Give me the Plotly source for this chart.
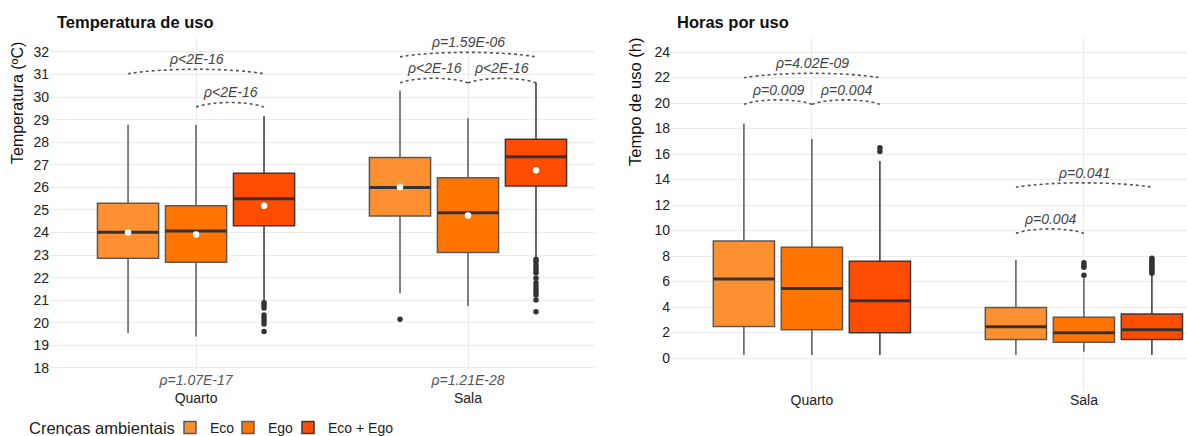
import plotly.graph_objects as go

# ---------------- data ----------------
categories = ["Quarto", "Sala"]
groups = ["Eco", "Ego", "Eco + Ego"]
colors = ["#FD9030", "#FF7500", "#FF4D00"]
line_colors = ["#5a5a5a", "#5a5a5a", "#383838"]

# Temperatura de uso (ºC) -- one row per group, values for [Quarto, Sala]
temp_lowerfence = [[19.55, 21.31], [19.39, 20.75], [20.95, 22.88]]
temp_q1 = [[22.86, 24.73], [22.68, 23.12], [24.30, 26.06]]
temp_median = [[24.01, 25.99], [24.07, 24.88], [25.49, 27.36]]
temp_q3 = [[25.30, 27.32], [25.19, 26.43], [26.63, 28.13]]
temp_upperfence = [[28.77, 30.29], [28.77, 29.06], [29.16, 30.64]]
temp_mean = [[24.00, 26.02], [23.91, 24.75], [25.19, 26.76]]
temp_outliers = [
    [[], [20.16]],
    [[], []],
    [[20.89, 20.79, 20.66, 20.35, 20.21, 20.08, 19.95, 19.61],
     [22.82, 22.70, 22.56, 22.43, 22.30, 22.21, 21.97, 21.78, 21.63, 21.50,
      21.37, 21.23, 21.01, 20.49]],
]
temp_axis_pvalues = ["ρ=1.07E-17", "ρ=1.21E-28"]

# Horas por uso (h)
hours_lowerfence = [[0.24, 0.24], [0.24, 0.50], [0.24, 0.24]]
hours_q1 = [[2.48, 1.46], [2.22, 1.23], [1.99, 1.46]]
hours_median = [[6.20, 2.46], [5.46, 1.99], [4.50, 2.22]]
hours_q3 = [[9.18, 3.97], [8.68, 3.19], [7.58, 3.45]]
hours_upperfence = [[18.40, 7.69], [17.18, 6.25], [15.45, 6.50]]
hours_outliers = [
    [[], []],
    [[], [6.49, 7.12, 7.30, 7.47]],
    [[16.20, 16.50], [6.65, 6.80, 6.95, 7.10, 7.25, 7.40, 7.55, 7.70, 7.82]],
]

# pairwise comparisons: (category index, group a, group b, bracket level, label)
temp_brackets = [
    (0, 0, 2, 31.03, "ρ<2E-16"),
    (0, 1, 2, 29.56, "ρ<2E-16"),
    (1, 0, 2, 31.78, "ρ=1.59E-06"),
    (1, 0, 1, 30.63, "ρ<2E-16"),
    (1, 1, 2, 30.63, "ρ<2E-16"),
]
hours_brackets = [
    (0, 0, 2, 21.98, "ρ=4.02E-09"),
    (0, 0, 1, 19.90, "ρ=0.009"),
    (0, 1, 2, 19.90, "ρ=0.004"),
    (1, 0, 2, 13.39, "ρ=0.041"),
    (1, 0, 1, 9.78, "ρ=0.004"),
]

temp_ticks = list(range(18, 33))
hours_ticks = list(range(0, 25, 2))
legend_title = "Crenças ambientais"

# ---------------- layout constants ----------------
W, H = 1187, 436
FONT = "Liberation Sans, Arial, sans-serif"
BOXGAP = 0.25
BOXGROUPGAP = 0.1
NG = len(groups)
legend_ids = ["legend", "legend2", "legend3"]
legend_symbol_px = [190, 248, 308]


def offset(gi):
    return (gi - (NG - 1) / 2) * (1 - BOXGAP) / NG


def px_x(a, b):
    return [a / W, b / W]


def px_y(top, bottom):
    return [(H - bottom) / H, (H - top) / H]


def samples(lf, uf, out):
    # whisker-end observations plus the outlying observations of each box
    return [[lo, hi] + o for lo, hi, o in zip(lf, uf, out)]


left_xdom = px_x(50, 595)
left_ydom = px_y(37, 370)
right_xdom = px_x(671, 1187)
right_ydom = px_y(38, 390)
left_xrange = [-0.537, 1.467]
right_xrange = [-0.518, 1.379]
left_yrange = [17.91, 32.66]
right_yrange = [-2.51, 25.1]

fig = go.Figure()

panels = [
    dict(xa="x", ya="y", lf=temp_lowerfence, q1=temp_q1, med=temp_median,
         q3=temp_q3, uf=temp_upperfence, out=temp_outliers, legend=True),
    dict(xa="x2", ya="y2", lf=hours_lowerfence, q1=hours_q1, med=hours_median,
         q3=hours_q3, uf=hours_upperfence, out=hours_outliers, legend=False),
]

for p in panels:
    for gi, g in enumerate(groups):
        fig.add_trace(go.Box(
            x=categories,
            y=samples(p["lf"][gi], p["uf"][gi], p["out"][gi]),
            q1=p["q1"][gi], median=p["med"][gi], q3=p["q3"][gi],
            lowerfence=p["lf"][gi], upperfence=p["uf"][gi],
            name=g, legendgroup=g, offsetgroup=g, showlegend=p["legend"],
            legend=legend_ids[gi],
            fillcolor=colors[gi],
            line=dict(color=line_colors[gi], width=1.5),
            marker=dict(color="#333333", size=5.5),
            boxpoints="outliers", pointpos=0, jitter=0,
            whiskerwidth=0,
            xaxis=p["xa"], yaxis=p["ya"],
        ))
    # thicker median bars drawn on top of each box
    for gi, g in enumerate(groups):
        fig.add_trace(go.Box(
            x=categories,
            q1=p["med"][gi], median=p["med"][gi], q3=p["med"][gi],
            lowerfence=p["med"][gi], upperfence=p["med"][gi],
            name=g, legendgroup=g, offsetgroup=g, showlegend=False,
            fillcolor="rgba(0,0,0,0)",
            line=dict(color="#333333", width=3),
            boxpoints=False, whiskerwidth=0, hoverinfo="skip",
            xaxis=p["xa"], yaxis=p["ya"],
        ))

# mean markers (temperature panel only)
for gi, g in enumerate(groups):
    fig.add_trace(go.Scatter(
        x=[ci + offset(gi) for ci in range(len(categories))],
        y=temp_mean[gi],
        mode="markers",
        marker=dict(color="white", size=6.5),
        showlegend=False, hoverinfo="skip",
        xaxis="x3", yaxis="y",
    ))

shapes = []
annotations = []


def add_brackets(brackets, xref, yref, rise):
    for ci, ga, gb, level, label in brackets:
        x0 = ci + offset(ga)
        x1 = ci + offset(gb)
        w = x1 - x0
        r = rise / 0.75
        path = (f"M {x0},{level} C {x0 + 0.25 * w},{level + r} "
                f"{x1 - 0.25 * w},{level + r} {x1},{level}")
        shapes.append(dict(type="path", path=path, xref=xref, yref=yref,
                           line=dict(color="#555555", width=1.6, dash="dot")))
        annotations.append(dict(x=(x0 + x1) / 2, y=level + rise, xref=xref, yref=yref,
                                text=f"<i>{label}</i>", showarrow=False,
                                yanchor="bottom", yshift=0,
                                font=dict(family=FONT, size=14, color="#444444")))


add_brackets(temp_brackets, "x3", "y", 0.2)
add_brackets(hours_brackets, "x4", "y2", 0.35)

# titles and axis titles
annotations += [
    dict(text="<b>Temperatura de uso</b>", x=55 / W, y=(H - 22) / H, xref="paper", yref="paper",
         xanchor="left", yanchor="middle", showarrow=False,
         font=dict(family=FONT, size=16.5, color="#111111")),
    dict(text="<b>Horas por uso</b>", x=675 / W, y=(H - 22) / H, xref="paper", yref="paper",
         xanchor="left", yanchor="middle", showarrow=False,
         font=dict(family=FONT, size=16.5, color="#111111")),
    dict(text="Temperatura (ºC)", x=18 / W, y=(H - 103) / H, xref="paper", yref="paper",
         xanchor="center", yanchor="middle", textangle=-90, showarrow=False,
         font=dict(family=FONT, size=16, color="#111111")),
    dict(text="Tempo de uso (h)", x=635 / W, y=(H - 102) / H, xref="paper", yref="paper",
         xanchor="center", yanchor="middle", textangle=-90, showarrow=False,
         font=dict(family=FONT, size=16.5, color="#111111")),
    dict(text=legend_title, x=27 / W, y=(H - 428) / H, xref="paper", yref="paper",
         xanchor="left", yanchor="middle", showarrow=False,
         font=dict(family=FONT, size=16.5, color="#222222")),
]

grid = "#EBEBEB"
tickfont = dict(family=FONT, size=14, color="#222222")

left_ticktext = [f"<span style='color:#555555'><i>{pv}</i></span><br>{c}"
                 for pv, c in zip(temp_axis_pvalues, categories)]

legends = {}
for lid, sx in zip(legend_ids, legend_symbol_px):
    legends[lid] = dict(orientation="h", x=(sx - 20) / W, xanchor="left",
                        y=(H - 428) / H, yanchor="middle",
                        font=dict(family=FONT, size=14, color="#222222"),
                        itemwidth=30, bgcolor="rgba(0,0,0,0)", borderwidth=0)

fig.update_layout(
    autosize=True,
    margin=dict(l=0, r=0, t=0, b=0, autoexpand=False),
    paper_bgcolor="white", plot_bgcolor="white",
    boxmode="group", boxgap=BOXGAP, boxgroupgap=BOXGROUPGAP,
    font=dict(family=FONT, color="#222222"),
    shapes=shapes, annotations=annotations,
    xaxis=dict(domain=left_xdom, anchor="y", type="category", range=left_xrange,
               categoryorder="array", categoryarray=categories,
               tickvals=categories, ticktext=left_ticktext,
               showgrid=True, gridcolor=grid, gridwidth=1.3, zeroline=False,
               showline=False, ticks="", tickfont=tickfont),
    yaxis=dict(domain=left_ydom, anchor="x", range=left_yrange, tickvals=temp_ticks,
               showgrid=True, gridcolor=grid, gridwidth=1.3, zeroline=False,
               showline=False, ticks="", tickfont=tickfont),
    xaxis3=dict(domain=left_xdom, overlaying="x", anchor="y", range=left_xrange,
                visible=False),
    xaxis2=dict(domain=right_xdom, anchor="y2", type="category", range=right_xrange,
                categoryorder="array", categoryarray=categories,
                showgrid=True, gridcolor=grid, gridwidth=1.3, zeroline=False,
                showline=False, ticks="", tickfont=tickfont),
    yaxis2=dict(domain=right_ydom, anchor="x2", range=right_yrange, tickvals=hours_ticks,
                showgrid=True, gridcolor=grid, gridwidth=1.3, zeroline=False,
                showline=False, ticks="", tickfont=tickfont),
    xaxis4=dict(domain=right_xdom, overlaying="x2", anchor="y2", range=right_xrange,
                visible=False),
    showlegend=True,
    **legends,
)

page_fix = (
    "var d=document.documentElement,b=document.body;"
    "d.style.margin='0';d.style.padding='0';d.style.overflow='hidden';"
    "b.style.margin='0';b.style.padding='0';b.style.overflow='hidden';"
    "var gd=document.getElementById('{plot_id}');"
    "gd.style.width='100vw';gd.style.height='100vh';"
    "Plotly.Plots.resize(gd);"
)

fig.write_html("out.html", config={"displayModeBar": False, "responsive": True},
               default_width="100vw", default_height="100vh", post_script=page_fix)
